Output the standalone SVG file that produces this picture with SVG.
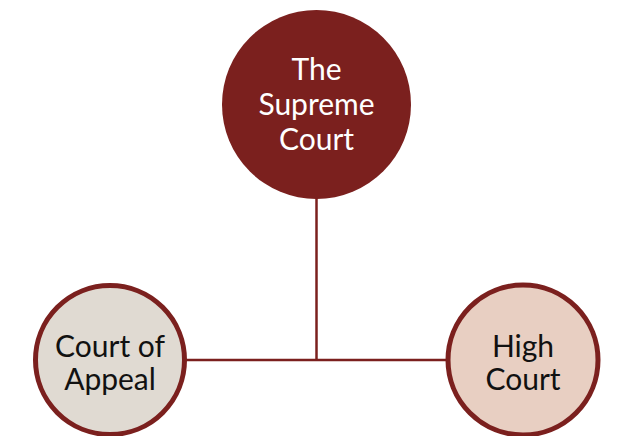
<svg xmlns="http://www.w3.org/2000/svg" width="617" height="436" viewBox="0 0 617 436">
<style>
.lbl{font-family:Lato,"Open Sans","Liberation Sans",sans-serif;font-size:30px;font-weight:400;text-anchor:middle}
.light{fill:#ffffff}
.dark{fill:#111111}
.conn{stroke:#7b201e;stroke-width:2.5;fill:none}
.ring{stroke:#7b201e;stroke-width:5}
</style>
<rect width="617" height="436" fill="#ffffff"/>
<g id="connectors">
<line class="conn" x1="316.5" y1="198" x2="316.5" y2="360"/>
<line class="conn" x1="185" y1="360" x2="447" y2="360"/>
</g>
<g id="supreme-court">
<circle cx="316.5" cy="104.5" r="94.5" fill="#7b201e"/>
<text class="lbl light" x="316.5" y="80">The</text>
<text class="lbl light" x="316.5" y="115">Supreme</text>
<text class="lbl light" x="316.5" y="150">Court</text>
</g>
<g id="court-of-appeal">
<circle class="ring" cx="110" cy="360" r="74.5" fill="#e0dad2"/>
<text class="lbl dark" x="110" y="357">Court of</text>
<text class="lbl dark" x="110" y="390">Appeal</text>
</g>
<g id="high-court">
<circle class="ring" cx="523" cy="360" r="75" fill="#e8cfc2"/>
<text class="lbl dark" x="523" y="357">High</text>
<text class="lbl dark" x="523" y="390">Court</text>
</g>
</svg>
